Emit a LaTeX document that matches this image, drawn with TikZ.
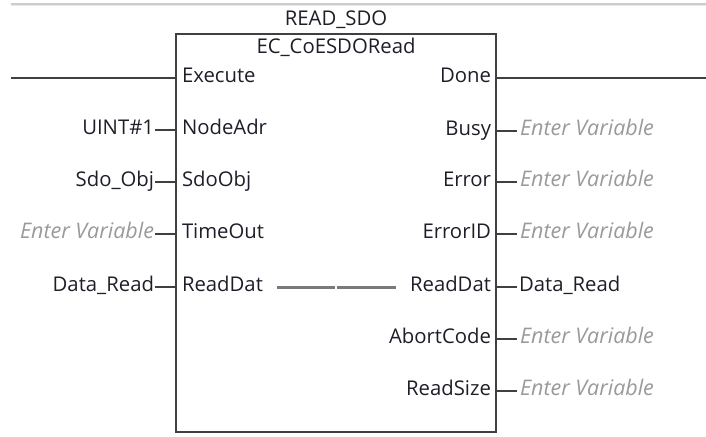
\documentclass[tikz,border=0pt]{standalone}
\usepackage{fontspec}
\setmainfont{Open Sans}
\definecolor{txt}{HTML}{1E1E28}
\definecolor{hint}{HTML}{9A9A9A}
\definecolor{wire}{HTML}{404040}
\definecolor{inner}{HTML}{7A7A7A}
\begin{document}
\begin{tikzpicture}[x=1pt,y=-1pt,
  every node/.style={inner sep=0pt,outer sep=0pt,text=txt,font=\fontsize{20.3}{24}\selectfont},
  pinl/.style={anchor=base west},
  pinr/.style={anchor=base east},
  varl/.style={anchor=base east},
  varr/.style={anchor=base west},
  hintl/.style={anchor=base east,text=hint,font=\fontsize{21.5}{24}\selectfont\itshape},
  hintr/.style={anchor=base west,text=hint,font=\fontsize{21.5}{24}\selectfont\itshape},
  wireline/.style={draw=wire,line width=2pt},
  boxline/.style={draw=wire,line width=2.6pt},
  innerline/.style={draw=inner,line width=3pt}]
\useasboundingbox (0,0) rectangle (706,436);
% top bar
\fill[black!20] (11,3) rectangle (706,5);
\fill[black!9] (11,5) rectangle (706,6.5);
% box
\draw[boxline] (176,34) rectangle (496,432);
\node[anchor=base] (title) at (336,26) {READ\_SDO};
\node[anchor=base] (type) at (336,54) {EC\_CoESDORead};
% left pins
\foreach \n/\t/\y in {pe/Execute/78, pn/NodeAdr/130, ps/SdoObj/182, pt/TimeOut/234, pr/ReadDat/287}{
  \node[pinl] (\n) at (182,\y+4) {\t};
  \coordinate (\n-c) at (176,\y);
}
% right pins
\foreach \n/\t/\y in {qd/Done/78, qb/Busy/131, qe/Error/182, qi/ErrorID/234, qr/ReadDat/287, qa/AbortCode/339, qs/ReadSize/391}{
  \node[pinr] (\n) at (491,\y+4) {\t};
  \coordinate (\n-c) at (496,\y);
}
% left variables
\node[varl] (vn) at (154,134) {UINT\#1};
\node[varl] (vs) at (154,186) {Sdo\_Obj};
\node[hintl] (vt) at (154,238) {Enter Variable};
\node[varl] (vr) at (154,291) {Data\_Read};
% right variables
\node[hintr] (wb) at (520,135) {Enter Variable};
\node[hintr] (we) at (520,186) {Enter Variable};
\node[hintr] (wi) at (520,238) {Enter Variable};
\node[varr] (wr) at (519,291) {Data\_Read};
\node[hintr] (wa) at (520,343) {Enter Variable};
\node[hintr] (ws) at (520,395) {Enter Variable};
% ends of free lines
\coordinate (lend) at (11,78);
\coordinate (rend) at (706,78);
% wires
\draw[wireline] (lend) -- (pe-c);
\draw[wireline] (qd-c) -- (rend);
\draw[wireline] (vn.east |- pn-c) ++(1,0) -- (pn-c);
\draw[wireline] (vs.east |- ps-c) ++(1,0) -- (ps-c);
\draw[wireline] (vt.east |- pt-c) ++(1,0) -- (pt-c);
\draw[wireline] (vr.east |- pr-c) ++(1,0) -- (pr-c);
\draw[wireline] (qb-c) -- ([xshift=-3pt]wb.west |- qb-c);
\draw[wireline] (qe-c) -- ([xshift=-3pt]we.west |- qe-c);
\draw[wireline] (qi-c) -- ([xshift=-3pt]wi.west |- qi-c);
\draw[wireline] (qr-c) -- ([xshift=-2pt]wr.west |- qr-c);
\draw[wireline] (qa-c) -- ([xshift=-3pt]wa.west |- qa-c);
\draw[wireline] (qs-c) -- ([xshift=-3pt]ws.west |- qs-c);
% internal pass-through line
\coordinate (ia) at (277,287);
\coordinate (ib) at (335,287);
\coordinate (ic) at (337,287);
\coordinate (id) at (396,287);
\draw[innerline] (ia) -- (ib);
\draw[innerline] (ic) -- (id);
\end{tikzpicture}
\end{document}
